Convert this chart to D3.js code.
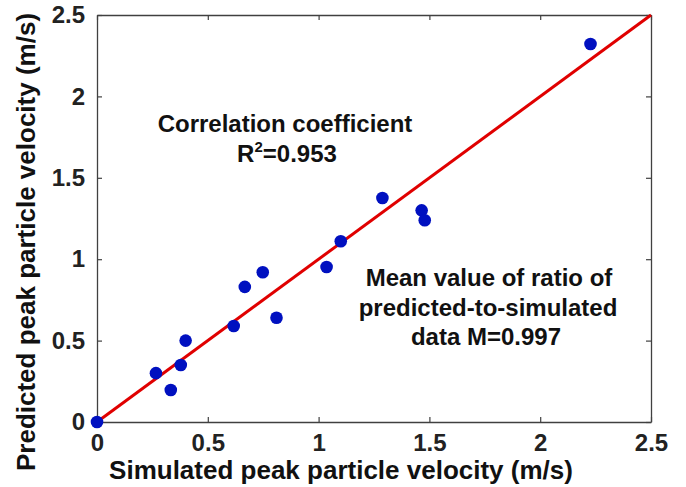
<!DOCTYPE html>
<html><head><meta charset="utf-8">
<script src="https://cdn.jsdelivr.net/npm/d3@7"></script>
<style>body{margin:0;background:#fff}text{font-family:Arial,"Liberation Sans",sans-serif;font-weight:bold}</style>
</head><body><svg id="c" width="686" height="487"></svg>
<script>
const simulated = [0, 0.266, 0.333, 0.378, 0.40, 0.617, 0.667, 0.748, 0.81, 1.036, 1.10, 1.288, 1.465, 1.479, 2.227];
const predicted = [0, 0.30, 0.197, 0.35, 0.50, 0.59, 0.83, 0.92, 0.64, 0.952, 1.11, 1.376, 1.30, 1.239, 2.322];
const ticks = [0, 0.5, 1, 1.5, 2, 2.5];
const tickLabels = ["0", "0.5", "1", "1.5", "2", "2.5"];
const fitLine = [[0, 0], [2.5, 2.5]];

const svg = d3.select("#c");
const m = {l: 97, t: 15, r: 686 - 651, b: 487 - 422};
const W = 686 - m.l - m.r, H = 487 - m.t - m.b;
const x = d3.scaleLinear().domain([0, 2.5]).range([m.l, m.l + W]);
const y = d3.scaleLinear().domain([0, 2.5]).range([m.t + H, m.t]);
const axCol = "#404040";
const fmt = (d, i) => tickLabels[ticks.indexOf(d)];

function styleAx(g, noLabels) {
  g.select(".domain").attr("stroke", axCol).attr("stroke-width", 1.3);
  g.selectAll(".tick line").attr("stroke", axCol).attr("stroke-width", 1.2);
  g.selectAll(".tick text").attr("fill", "#222").style("font-size", "24px").style("font-weight", "bold");
  if (noLabels) g.selectAll(".tick text").remove();
}
svg.append("g").attr("transform", `translate(0,${m.t + H})`)
  .call(d3.axisBottom(x).tickValues(ticks).tickFormat(fmt).tickSize(-5).tickPadding(12).tickSizeOuter(0))
  .call(g => styleAx(g));
svg.append("g").attr("transform", `translate(0,${m.t})`)
  .call(d3.axisTop(x).tickValues(ticks).tickSize(-5).tickSizeOuter(0))
  .call(g => styleAx(g, true));
svg.append("g").attr("transform", `translate(${m.l},0)`)
  .call(d3.axisLeft(y).tickValues(ticks).tickFormat(fmt).tickSize(-5).tickPadding(12).tickSizeOuter(0))
  .call(g => styleAx(g));
svg.append("g").attr("transform", `translate(${m.l + W},0)`)
  .call(d3.axisRight(y).tickValues(ticks).tickSize(-5).tickSizeOuter(0))
  .call(g => styleAx(g, true));

svg.append("path").datum(fitLine)
  .attr("d", d3.line().x(d => x(d[0])).y(d => y(d[1])))
  .attr("stroke", "#e00000").attr("stroke-width", 3).attr("fill", "none");

svg.append("g").selectAll("circle").data(simulated).join("circle")
  .attr("cx", d => x(d)).attr("cy", (d, i) => y(predicted[i])).attr("r", 6.3)
  .attr("fill", "#0010c0");

svg.append("text").attr("x", 341).attr("y", 479).attr("text-anchor", "middle")
  .style("font-size", "26px").attr("fill", "#111").text("Simulated peak particle velocity (m/s)");
svg.append("text").attr("transform", `translate(35,242) rotate(-90)`).attr("text-anchor", "middle")
  .style("font-size", "26px").attr("fill", "#111").text("Predicted peak particle velocity (m/s)");

const ann = svg.append("g").attr("fill", "#111").style("font-size", "24px");
ann.append("text").attr("x", 285).attr("y", 132).attr("text-anchor", "middle").text("Correlation coefficient");
const r2 = ann.append("text").attr("x", 287).attr("y", 162).attr("text-anchor", "middle");
r2.append("tspan").text("R");
r2.append("tspan").attr("dy", -10).style("font-size", "15px").text("2");
r2.append("tspan").attr("dy", 10).text("=0.953");
ann.append("text").attr("x", 489).attr("y", 286).attr("text-anchor", "middle").text("Mean value of ratio of");
ann.append("text").attr("x", 488).attr("y", 316).attr("text-anchor", "middle").text("predicted-to-simulated");
ann.append("text").attr("x", 486).attr("y", 345).attr("text-anchor", "middle").text("data M=0.997");
</script></body></html>
